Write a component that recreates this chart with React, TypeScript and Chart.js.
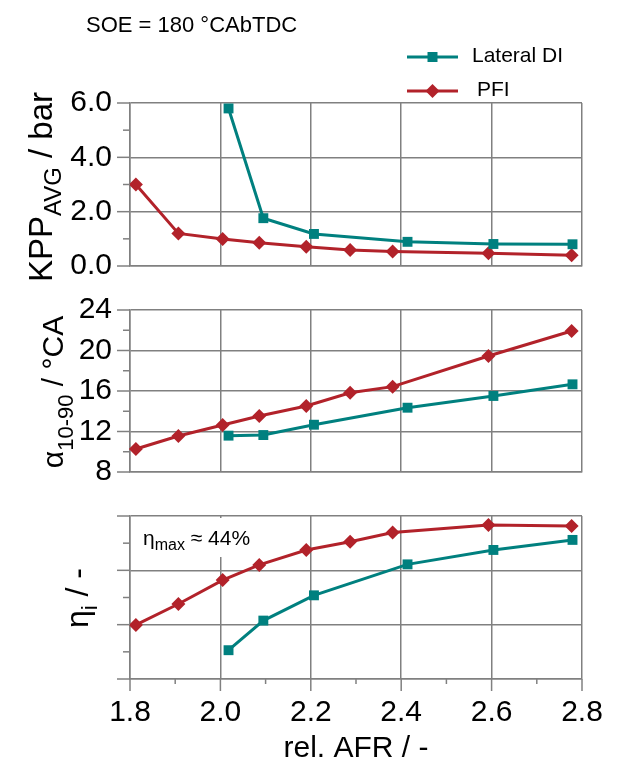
import React, { useEffect, useRef } from 'react';
import { Chart, registerables } from 'chart.js';

Chart.register(...registerables);

const FONT = "'Liberation Sans', Arial, sans-serif";
const TEAL = '#00807f';
const RED = '#b2222a';
const GRID = '#808080';
const CLEAR = 'rgba(0,0,0,0)';

// Tick positions
const X_TICKS = [1.8, 1.9, 2.0, 2.1, 2.2, 2.3, 2.4, 2.5, 2.6, 2.7, 2.8];
const KPP_TICKS = [0, 1, 2, 3, 4, 5, 6];
const ALPHA_TICKS = [8, 10, 12, 14, 16, 18, 20, 22, 24];
const ETA_TICKS = [0, 1, 2, 3, 4, 5, 6];

// rel. AFR values
const AFR_DI = [2.018, 2.095, 2.207, 2.414, 2.604, 2.779];
const AFR_PFI = [1.813, 1.907, 2.005, 2.086, 2.19, 2.287, 2.381, 2.593, 2.777];

// KPP_AVG / bar
const KPP_DI = [5.8, 1.76, 1.18, 0.89, 0.81, 0.8];
const KPP_PFI = [3.0, 1.2, 0.99, 0.86, 0.71, 0.59, 0.53, 0.47, 0.4];

// alpha 10-90 / °CA
const ALPHA_DI = [11.59, 11.65, 12.67, 14.35, 15.51, 16.66];
const ALPHA_PFI = [10.27, 11.56, 12.64, 13.53, 14.52, 15.83, 16.43, 19.46, 21.93];

// eta_i (relative units, no scale labels)
const ETA_DI = [1.06, 2.15, 3.08, 4.22, 4.75, 5.12];
const ETA_PFI = [1.99, 2.76, 3.64, 4.2, 4.75, 5.05, 5.39, 5.67, 5.63];

type Part = { text: string; size: number; dy: number };

function drawRich(ctx: CanvasRenderingContext2D, parts: Part[], x: number, y: number, rotate: boolean, center: boolean) {
  ctx.save();
  ctx.translate(x, y);
  if (rotate) ctx.rotate(-Math.PI / 2);
  ctx.fillStyle = '#000';
  ctx.textBaseline = 'alphabetic';
  ctx.textAlign = 'left';
  let total = 0;
  const widths = parts.map((p) => {
    ctx.font = `${p.size}px ${FONT}`;
    const w = ctx.measureText(p.text).width;
    total += w;
    return w;
  });
  let cx = center ? -total / 2 : 0;
  parts.forEach((p, i) => {
    ctx.font = `${p.size}px ${FONT}`;
    ctx.fillText(p.text, cx, p.dy);
    cx += widths[i];
  });
  ctx.restore();
}

function drawMarker(ctx: CanvasRenderingContext2D, style: string, x: number, y: number, color: string) {
  ctx.save();
  ctx.fillStyle = color;
  ctx.beginPath();
  if (style === 'rect') {
    ctx.rect(x - 5, y - 5, 10, 10);
  } else {
    const r = 7;
    ctx.moveTo(x, y - r);
    ctx.lineTo(x + r, y);
    ctx.lineTo(x, y + r);
    ctx.lineTo(x - r, y);
    ctx.closePath();
  }
  ctx.fill();
  ctx.restore();
}

const isMajorX = (v: number) => Math.round(v * 10) % 2 === 0;

type PanelOpts = {
  yTicks: number[];
  min: number;
  max: number;
  isMajorY: (v: number) => boolean;
  yLabel: ((v: number) => string) | null;
  di: number[];
  pfi: number[];
  showX: boolean;
  padTop: number;
  padBottom: number;
  extra: (chart: any) => void;
  before?: (chart: any) => void;
};

function makeChart(canvas: HTMLCanvasElement, o: PanelOpts) {
  const ticksPlugin = {
    id: 'tickmarks',
    beforeDatasetsDraw(chart: any) {
      if (o.before) o.before(chart);
    },
    afterDraw(chart: any) {
      const ctx = chart.ctx as CanvasRenderingContext2D;
      const { left, bottom } = chart.chartArea;
      const ys = chart.scales.y;
      const xs = chart.scales.x;
      ctx.save();
      ctx.strokeStyle = GRID;
      ctx.lineWidth = 1.5;
      o.yTicks.forEach((v) => {
        const py = ys.getPixelForValue(v);
        const len = o.isMajorY(v) ? 13 : 7;
        ctx.beginPath();
        ctx.moveTo(left - len, py);
        ctx.lineTo(left, py);
        ctx.stroke();
      });
      if (o.showX) {
        X_TICKS.forEach((v) => {
          const px = xs.getPixelForValue(v);
          const len = isMajorX(v) ? 12 : 5;
          ctx.beginPath();
          ctx.moveTo(px, bottom);
          ctx.lineTo(px, bottom + len);
          ctx.stroke();
        });
      }
      ctx.restore();
      o.extra(chart);
    },
  };

  return new Chart(canvas, {
    type: 'line',
    data: {
      datasets: [
        {
          label: 'Lateral DI',
          data: AFR_DI.map((x, i) => ({ x, y: o.di[i] })),
          borderColor: TEAL,
          backgroundColor: TEAL,
          borderWidth: 3,
          pointStyle: 'rect',
          pointRadius: 7,
          pointBorderWidth: 0,
          tension: 0,
          clip: false as any,
        },
        {
          label: 'PFI',
          data: AFR_PFI.map((x, i) => ({ x, y: o.pfi[i] })),
          borderColor: RED,
          backgroundColor: RED,
          borderWidth: 3,
          pointStyle: 'rectRot',
          pointRadius: 7,
          pointBorderWidth: 0,
          tension: 0,
          clip: false as any,
        },
      ],
    },
    plugins: [ticksPlugin],
    options: {
      responsive: false,
      animation: false,
      events: [],
      layout: { padding: { left: 0, right: 47, top: o.padTop, bottom: o.padBottom } },
      plugins: { legend: { display: false }, tooltip: { enabled: false } },
      scales: {
        x: {
          type: 'linear',
          min: 1.8,
          max: 2.8,
          afterBuildTicks: (s: any) => {
            s.ticks = X_TICKS.map((v) => ({ value: v }));
          },
          afterFit: (s: any) => {
            s.height = o.showX ? 90 : 0;
          },
          grid: {
            color: (c: any) => (c.tick && isMajorX(c.tick.value) ? GRID : CLEAR),
            lineWidth: 1.5,
            drawTicks: o.showX,
            tickLength: 16,
            tickColor: CLEAR,
          },
          border: { display: true, color: GRID, width: 1.5 },
          ticks: {
            display: o.showX,
            autoSkip: false,
            maxRotation: 0,
            padding: 0,
            color: '#000',
            font: { family: FONT, size: 30 },
            callback: (v: any) => (isMajorX(Number(v)) ? Number(v).toFixed(1) : ''),
          },
          title: {
            display: o.showX,
            text: 'rel. AFR / -',
            color: '#000',
            font: { family: FONT, size: 30 },
            padding: { top: 0, bottom: 2 },
          },
        },
        y: {
          type: 'linear',
          min: o.min,
          max: o.max,
          afterBuildTicks: (s: any) => {
            s.ticks = o.yTicks.map((v) => ({ value: v }));
          },
          afterFit: (s: any) => {
            s.width = 130;
          },
          grid: {
            color: (c: any) => (c.tick && o.isMajorY(c.tick.value) ? GRID : CLEAR),
            lineWidth: 1.5,
            drawTicks: true,
            tickLength: 18,
            tickColor: CLEAR,
          },
          border: { display: true, color: GRID, width: 1.5 },
          ticks: {
            display: o.yLabel !== null,
            autoSkip: false,
            padding: 0,
            color: '#000',
            font: { family: FONT, size: 30 },
            callback: (v: any) => (o.yLabel ? o.yLabel(Number(v)) : ''),
          },
        },
      },
    },
  } as any);
}

export default function App() {
  const r1 = useRef<HTMLCanvasElement>(null);
  const r2 = useRef<HTMLCanvasElement>(null);
  const r3 = useRef<HTMLCanvasElement>(null);

  useEffect(() => {
    const c1 = makeChart(r1.current!, {
      yTicks: KPP_TICKS,
      min: 0,
      max: 6,
      isMajorY: (v) => v % 2 === 0,
      yLabel: (v) => (v % 2 === 0 ? v.toFixed(1) : ''),
      di: KPP_DI,
      pfi: KPP_PFI,
      showX: false,
      padTop: 103,
      padBottom: 24,
      extra: (chart) => {
        const ctx = chart.ctx as CanvasRenderingContext2D;
        drawRich(
          ctx,
          [
            { text: 'KPP', size: 33, dy: 0 },
            { text: 'AVG', size: 24, dy: 9 },
            { text: ' / bar', size: 33, dy: 0 },
          ],
          52,
          187,
          true,
          true
        );
        // SOE note
        ctx.save();
        ctx.fillStyle = '#000';
        ctx.font = `22px ${FONT}`;
        ctx.textBaseline = 'middle';
        ctx.textAlign = 'left';
        ctx.fillText('SOE = 180 °CAbTDC', 86, 26);
        // legend
        const items = [
          { label: 'Lateral DI', color: TEAL, style: 'rect', y: 57, tx: 472 },
          { label: 'PFI', color: RED, style: 'rectRot', y: 91, tx: 477 },
        ];
        items.forEach((it) => {
          ctx.strokeStyle = it.color;
          ctx.lineWidth = 3;
          ctx.beginPath();
          ctx.moveTo(407, it.y);
          ctx.lineTo(458, it.y);
          ctx.stroke();
          drawMarker(ctx, it.style, 432.5, it.y, it.color);
          ctx.fillStyle = '#000';
          ctx.font = `21px ${FONT}`;
          ctx.fillText(it.label, it.tx, it.y - 1);
        });
        ctx.restore();
      },
    });

    const c2 = makeChart(r2.current!, {
      yTicks: ALPHA_TICKS,
      min: 8,
      max: 24,
      isMajorY: (v) => v % 4 === 0,
      yLabel: (v) => (v % 4 === 0 ? String(v) : ''),
      di: ALPHA_DI,
      pfi: ALPHA_PFI,
      showX: false,
      padTop: 20,
      padBottom: 18,
      extra: (chart) => {
        drawRich(
          chart.ctx,
          [
            { text: 'α', size: 30, dy: 0 },
            { text: '10-90', size: 22, dy: 10 },
            { text: ' / °CA', size: 30, dy: 0 },
          ],
          63,
          102,
          true,
          true
        );
      },
    });

    const c3 = makeChart(r3.current!, {
      yTicks: ETA_TICKS,
      min: 0,
      max: 6,
      isMajorY: (v) => v % 2 === 0,
      yLabel: null,
      di: ETA_DI,
      pfi: ETA_PFI,
      showX: true,
      padTop: 26,
      padBottom: 0,
      before: (chart) => {
        const ctx = chart.ctx as CanvasRenderingContext2D;
        ctx.save();
        ctx.fillStyle = '#fff';
        ctx.fillRect(135, 28, 128, 39);
        ctx.restore();
        drawRich(
          ctx,
          [
            { text: 'η', size: 21, dy: 0 },
            { text: 'max', size: 16, dy: 5 },
            { text: ' ≈ 44%', size: 21, dy: 0 },
          ],
          143,
          55,
          false,
          false
        );
      },
      extra: (chart) => {
        drawRich(
          chart.ctx,
          [
            { text: 'η', size: 32, dy: 0 },
            { text: 'i', size: 22, dy: 9 },
            { text: ' / -', size: 32, dy: 0 },
          ],
          88,
          108,
          true,
          true
        );
      },
    });

    return () => {
      c1.destroy();
      c2.destroy();
      c3.destroy();
    };
  }, []);

  const base: React.CSSProperties = { position: 'absolute', left: 0, display: 'block' };
  return (
    <div style={{ position: 'absolute', left: 0, top: 0, width: 629, height: 769, background: '#fff' }}>
      <canvas ref={r1} width={629} height={290} style={{ ...base, top: 0, width: 629, height: 290 }} />
      <canvas ref={r2} width={629} height={200} style={{ ...base, top: 290, width: 629, height: 200 }} />
      <canvas ref={r3} width={629} height={279} style={{ ...base, top: 490, width: 629, height: 279 }} />
    </div>
  );
}
